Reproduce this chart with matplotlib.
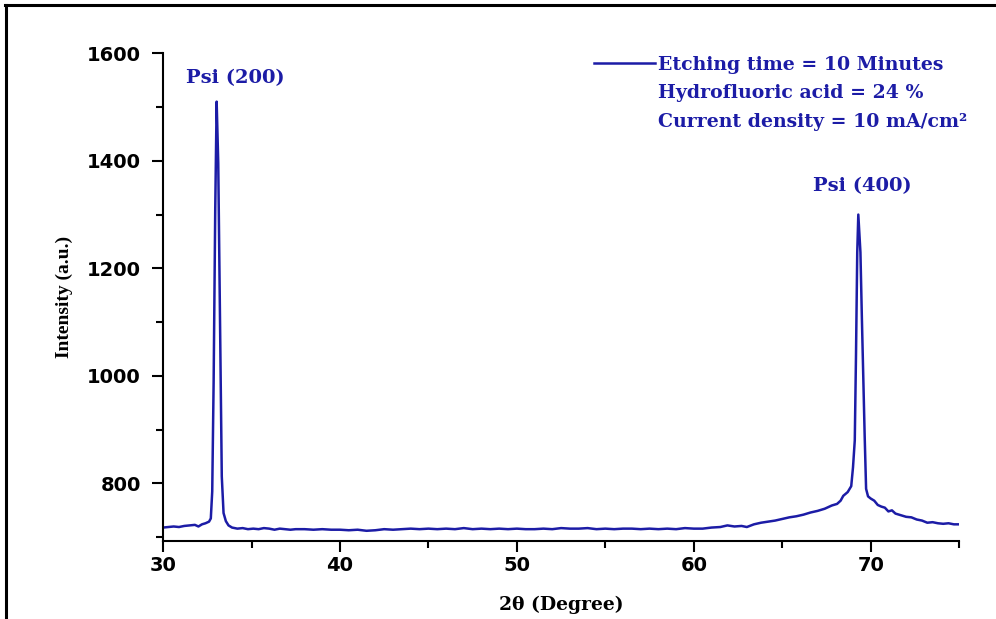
import matplotlib
matplotlib.use("Agg")
import matplotlib.pyplot as plt
from matplotlib.lines import Line2D

two_theta = [30.0, 30.3, 30.6, 30.9, 31.2, 31.5, 31.8, 32.0, 32.2, 32.4, 32.6,
             32.7, 32.78, 32.86, 32.95, 33.03, 33.12, 33.22, 33.32, 33.42, 33.55,
             33.7, 33.9, 34.2, 34.5, 34.8, 35.1, 35.4, 35.7, 36.0, 36.3, 36.6,
             36.9, 37.2, 37.5, 38.0, 38.5, 39.0, 39.5, 40.0, 40.5, 41.0, 41.5,
             42.0, 42.5, 43.0, 43.5, 44.0, 44.5, 45.0, 45.5, 46.0, 46.5, 47.0,
             47.5, 48.0, 48.5, 49.0, 49.5, 50.0, 50.5, 51.0, 51.5, 52.0, 52.5,
             53.0, 53.5, 54.0, 54.5, 55.0, 55.5, 56.0, 56.5, 57.0, 57.5, 58.0,
             58.5, 59.0, 59.5, 60.0, 60.5, 61.0, 61.5, 61.9, 62.3, 62.7, 63.0,
             63.4, 63.8, 64.2, 64.6, 65.0, 65.4, 65.8, 66.2, 66.6, 67.0, 67.4,
             67.8, 68.1, 68.3, 68.45, 68.7, 68.9, 69.0, 69.1, 69.17, 69.24, 69.3,
             69.42, 69.5, 69.58, 69.66, 69.74, 69.85, 70.0, 70.2, 70.4, 70.6,
             70.8, 71.0, 71.2, 71.4, 71.6, 71.8, 72.0, 72.3, 72.6, 72.9, 73.2,
             73.5, 73.8, 74.1, 74.4, 74.7, 75.0]
intensity = [718, 719, 720, 719, 721, 722, 723, 720, 724, 726, 729,
             735, 785, 990, 1310, 1510, 1396, 1099, 813, 745, 730,
             722, 718, 716, 717, 715, 716, 715, 717, 716, 714, 716,
             715, 714, 715, 715, 714, 715, 714, 714, 713, 714, 712,
             713, 715, 714, 715, 716, 715, 716, 715, 716, 715, 717,
             715, 716, 715, 716, 715, 716, 715, 715, 716, 715, 717,
             716, 716, 717, 715, 716, 715, 716, 716, 715, 716, 715,
             716, 715, 717, 716, 716, 718, 719, 722, 720, 721, 719,
             724, 727, 729, 731, 734, 737, 739, 742, 746, 749, 753,
             759, 762, 768, 777, 784, 795, 830, 880, 1040, 1230, 1300,
             1230, 1110, 1000, 888, 790, 776, 772, 768, 760, 757,
             755, 748, 750, 744, 742, 740, 738, 737, 733, 731, 727,
             728, 726, 725, 726, 724, 724]

peak_labels = ["Psi (200)", "Psi (400)"]
peak_label_pos = [(34.1, 1553), (69.5, 1353)]
legend_lines = ["Etching time = 10 Minutes", "Hydrofluoric acid = 24 %",
                "Current density = 10 mA/cm²"]
x_ticks = [30, 40, 50, 60, 70]
y_ticks = [800, 1000, 1200, 1400, 1600]

blue = "#1c1ca6"
wide_serif = ["DejaVu Serif"]
serif = ["Liberation Serif", "DejaVu Serif"]
sans = ["DejaVu Sans"]

fig = plt.figure(figsize=(9.96, 6.19), dpi=100)
ax = fig.add_axes([0.1637, 0.126, 0.7993, 0.788])

line, = ax.plot(two_theta, intensity, color=blue, lw=1.8)

ax.set_xlim(30, 75)
ax.set_ylim(693, 1600)
ax.set_xticks(x_ticks)
ax.set_yticks(y_ticks)
ax.set_xticks([35, 45, 55, 65, 75], minor=True)
ax.set_yticks([700, 900, 1100, 1300, 1500], minor=True)
ax.tick_params(which="major", direction="out", length=8, width=1.5,
               labelsize=14)
ax.tick_params(which="minor", direction="out", length=5, width=1.5)
ax.tick_params(axis="y", which="major", pad=8)
ax.tick_params(axis="x", which="major", pad=3)
for lbl in ax.get_xticklabels() + ax.get_yticklabels():
    lbl.set_fontfamily(sans)
    lbl.set_fontweight("bold")

for s in ["top", "right"]:
    ax.spines[s].set_visible(False)
for s in ["left", "bottom"]:
    ax.spines[s].set_linewidth(1.5)

ax.set_xlabel("2θ (Degree)", fontfamily=wide_serif, fontweight="bold",
              fontsize=13.5)
ax.set_ylabel("Intensity (a.u.)", fontfamily=serif, fontweight="bold",
              fontsize=14)
ax.xaxis.set_label_coords(0.5, -0.112)
ax.yaxis.set_label_coords(-0.113, 0.5)

for txt, (px, py) in zip(peak_labels, peak_label_pos):
    ax.text(px, py, txt, color=blue, fontfamily=wide_serif, fontweight="bold",
            fontsize=14, ha="center", va="center")

h_empty = Line2D([], [], color="none")
leg = ax.legend([line, h_empty, h_empty], legend_lines, loc="upper right",
                bbox_to_anchor=(1.031, 1.03), frameon=False, handlelength=3.2,
                handletextpad=0.15, labelspacing=0.56,
                prop={"family": wide_serif, "weight": "bold", "size": 13.6})
for t in leg.get_texts():
    t.set_color(blue)

fig.add_artist(Line2D([0.005, 1.0], [0.992, 0.992], color="black", lw=2.2,
                      transform=fig.transFigure))
fig.add_artist(Line2D([0.006, 0.006], [0.0, 0.992], color="black", lw=2.2,
                      transform=fig.transFigure))

fig.savefig("out.png", dpi=100)
